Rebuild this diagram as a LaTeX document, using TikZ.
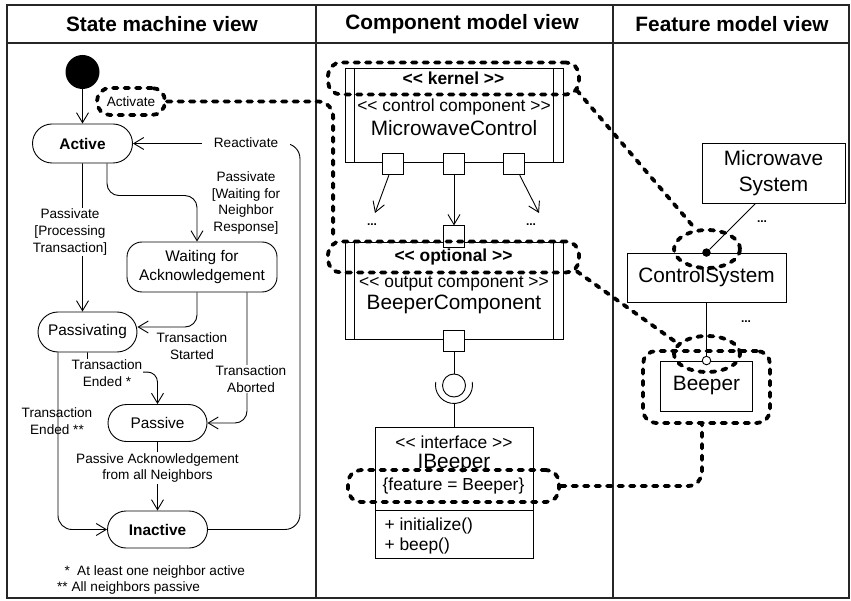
\documentclass[tikz,border=0pt]{standalone}
\usepackage{fontspec}
\setmainfont{Liberation Sans}[Ligatures=TeXOff]
\usetikzlibrary{positioning,arrows.meta,shapes.geometric,shapes.misc}

% font sizes (picture unit = 1pt)
\newcommand\fHead{\fontsize{20.8}{24}\selectfont\bfseries}
\newcommand\fState{\fontsize{15.4}{19}\selectfont}
\newcommand\fLabel{\fontsize{13.6}{16.6}\selectfont}
\newcommand\fStereo{\fontsize{17.4}{20}\selectfont}
\newcommand\fName{\fontsize{20.8}{25.5}\selectfont}

\tikzset{
  frame/.style={line width=1.2pt, draw=black!85},
  state/.style={draw, rounded rectangle, line width=0.9pt, inner sep=0pt, font=\fState},
  trans/.style={->, line width=0.9pt},
  lbl/.style={font=\fLabel, align=center, inner sep=1pt},
  lblw/.style={lbl, fill=white},
  comp/.style={draw, line width=0.9pt, inner sep=0pt},
  port/.style={draw, fill=white, line width=0.9pt, minimum size=21.5pt, inner sep=0pt},
  dotsmark/.style={font=\fontsize{12}{14}\selectfont\bfseries, inner sep=0pt},
  feat/.style={draw, line width=0.9pt, inner sep=0pt, font=\fName, align=center},
  trace/.style={line width=3.8pt, dash pattern=on 4.5pt off 7pt, line cap=round},
  tracebox/.style={trace, draw, rounded corners=13pt, inner sep=0pt},
  traceoval/.style={trace, draw, ellipse, inner sep=0pt}
}

\begin{document}
\begin{tikzpicture}[x=1pt, y=-1pt, >={Straight Barb[length=10pt,width=12pt]}]
  \fill[white] (0,0) rectangle (851,601);
  \useasboundingbox (0,0) rectangle (851,601);

  % --- FRAME ---
  \draw[frame] (7,5) rectangle (849,598);
  \draw[frame] (7,43) -- (849,43);
  \draw[frame] (316,5) -- (316,598);
  \draw[frame] (613,5) -- (613,598);
  \node[font=\fHead] (hstate) at (162,24) {State machine view};
  \node[font=\fHead] (hcomp)  at (462,24) {Component model view};
  \node[font=\fHead] (hfeat)  at (732,24) {Feature model view};

  % --- STATE MACHINE VIEW ---
  \node[circle, fill=black, minimum size=34pt, inner sep=0pt] (init) at (82.5,72) {};
  \node[tracebox, minimum width=68pt, minimum height=27pt, font=\fLabel] (actmark) at (131,101.5) {Activate};
  \node[state, minimum width=100pt, minimum height=39pt, font=\fState\bfseries] (active) at (82.5,143.5) {Active};
  \node[draw, rounded corners=15pt, line width=0.9pt, minimum width=150pt, minimum height=50pt,
        align=center, font=\fState, inner sep=0pt] (waiting) at (202,267) {Waiting for\\Acknowledgement};
  \node[state, minimum width=99pt, minimum height=40pt] (passivating) at (87.5,332) {Passivating};
  \node[state, minimum width=99pt, minimum height=37pt] (passive) at (157.5,423) {Passive};
  \node[state, minimum width=100pt, minimum height=37pt, font=\fState\bfseries] (inactive) at (157.5,529.5) {Inactive};

  % transitions
  \draw[trans] (init) -- (init |- active.north);
  \draw[trans] (active) -- (active |- passivating.north);
  \draw[trans, rounded corners=12pt] ([xshift=24.5pt]active.south) |- ([xshift=-5pt,yshift=46pt]waiting.north)
        -- ([xshift=-5pt]waiting.north);
  \draw[trans, rounded corners=12pt] ([xshift=-5pt]waiting.south) |- ([yshift=5pt]passivating.east);
  \draw[trans, rounded corners=12pt] ([xshift=45pt]waiting.south) |- (passive.east);
  \draw[trans, rounded corners=10pt] (passivating.south) |- ([yshift=32pt]passive.north) -- (passive.north);
  \draw[trans, rounded corners=14pt] ([xshift=-29.5pt]passivating.south) |- (inactive.west);
  \draw[trans] (passive) -- (inactive);
  \draw[trans, rounded corners=15pt] (inactive.east) -| ([xshift=167pt]active.east) -- (active.east);

  % transition labels
  \node[lblw] (lproc)    at (70,232)  {Passivate\\{[}Processing\\Transaction{]}};
  \node[lbl]  (lwait)    at (246,203) {Passivate\\{[}Waiting for\\Neighbor\\Response{]}};
  \node[lblw] (lstart)   at (192,346) {Transaction\\Started};
  \node[lblw] (labort)   at (251,379) {Transaction\\Aborted};
  \node[lblw] (lended)   at (107,373) {Transaction\\Ended *};
  \node[lbl]  (lendedtw) at (57,421)  {Transaction\\Ended **};
  \node[lblw] (lack)     at (157.5,468) {Passive Acknowledgement\\from all Neighbors};
  \node[lblw, inner xsep=12pt] (lreact) at (246,143) {Reactivate};

  % footnotes
  \node[lbl, anchor=west] (fnone) at (56,572) {\makebox[20pt][c]{*}At least one neighbor active};
  \node[lbl, anchor=west] (fntwo) at (56,588) {** All neighbors passive};

  % --- COMPONENT MODEL VIEW ---
  \node[comp, minimum width=218pt, minimum height=94pt] (kernel) at (454,115) {};
  \draw[line width=0.9pt] ([xshift=10pt]kernel.north west) -- ([xshift=10pt]kernel.south west);
  \draw[line width=0.9pt] ([xshift=-10pt]kernel.north east) -- ([xshift=-10pt]kernel.south east);
  \node[font=\fStereo] (kstereo) at (454,107) {<< control component >>};
  \node[font=\fName]   (kname)   at (454,128) {MicrowaveControl};
  \node[port] (kpl) at ([xshift=-61pt,yshift=-1.5pt]kernel.south) {};
  \node[port] (kpm) at ([yshift=-1.5pt]kernel.south) {};
  \node[port] (kpr) at ([xshift=60pt,yshift=-1.5pt]kernel.south) {};

  \node[comp, minimum width=218pt, minimum height=97pt] (optional) at (454,290.5) {};
  \draw[line width=0.9pt] ([xshift=10pt]optional.north west) -- ([xshift=10pt]optional.south west);
  \draw[line width=0.9pt] ([xshift=-10pt]optional.north east) -- ([xshift=-10pt]optional.south east);
  \node[font=\fStereo] (ostereo) at (454,284) {<< output component >>};
  \node[font=\fName]   (oname)   at (454,304) {BeeperComponent};
  \node[port] (opt) at ([yshift=5pt]optional.north) {};
  \node[port] (opb) at ([yshift=-1.5pt]optional.south) {};

  \node[dotsmark] (dotsl) at (372,225) {...};
  \node[dotsmark] (dotsr) at (531,225) {...};
  \coordinate (morel) at (375,213);
  \coordinate (morer) at (539,213);
  \draw[trans] (kpl) -- (morel);
  \draw[trans] (kpr) -- (morer);
  \draw[trans] (kpm) -- (opt);

  % provided / required interface
  \node[draw, circle, line width=0.9pt, minimum size=23pt, inner sep=0pt] (ball) at (454,385.5) {};
  \draw[line width=0.9pt] (opb) -- (ball);
  \draw[line width=0.9pt] (454,385) ++(190:18.5) arc[start angle=190, end angle=-10, radius=18.5];
  \coordinate (socket) at (454,403.5);

  \node[comp, minimum width=158pt, minimum height=131pt] (iface) at (454,492.5) {};
  \draw[line width=0.9pt] (socket) -- (iface);
  \draw[line width=0.9pt] ([yshift=-84pt]iface.north west) -- ([yshift=-84pt]iface.north east);
  \node[font=\fStereo] (istereo) at (454,442) {<< interface >>};
  \node[font=\fName]   (iname)   at (454,464) {IBeeper};
  \node[font=\fStereo, anchor=west] (iop1) at (381,526) {+ initialize()};
  \node[font=\fStereo, anchor=west] (iop2) at (381,546) {+ beep()};

  % --- FEATURE MODEL VIEW ---
  \node[feat, minimum width=143pt, minimum height=60pt] (msys) at (773.5,173) {Microwave\\System};
  \node[feat, minimum width=159pt, minimum height=49pt] (ctrl) at (706.5,277.5) {ControlSystem};
  \node[feat, minimum width=92pt, minimum height=50pt] (beeper) at (706.5,386) {Beeper};
  \node[circle, fill=black, minimum size=8.5pt, inner sep=0pt] (mand) at (ctrl.north) {};
  \node[circle, draw, fill=white, line width=0.9pt, minimum size=8.5pt, inner sep=0pt] (opti) at (beeper.north) {};
  \draw[line width=0.9pt] (mand) -- ([xshift=-18pt]msys.south);
  \draw[line width=0.9pt] (ctrl) -- (opti);
  \node[dotsmark] (dotsm) at (762,222) {...};
  \node[dotsmark] (dotsc) at (746,322) {...};

  % --- TRACE LINKS ---
  \node[tracebox, minimum width=251pt, minimum height=32pt, font=\fStereo\bfseries] (kernmark) at (453.5,78.5) {<< kernel >>};
  \node[tracebox, minimum width=251pt, minimum height=31pt, font=\fStereo\bfseries] (optmark) at (453.5,257) {<< optional >>};
  \node[tracebox, minimum width=211pt, minimum height=32pt, font=\fStereo] (featmark) at (453.5,486) {\{feature = Beeper\}};
  \node[traceoval, minimum width=66pt, minimum height=38pt] (ctrlmark) at (707,249) {};
  \node[traceoval, minimum width=66pt, minimum height=36pt] (optimark) at (707,354) {};
  \node[tracebox, minimum width=127pt, minimum height=72pt] (beepmark) at (706.5,387) {};

  \draw[trace, rounded corners=15pt] (actmark.east) -| ([xshift=7pt]optmark.north west);
  \draw[trace] ([xshift=-4pt,yshift=6pt]kernmark.south east) -- (ctrlmark.120);
  \draw[trace] ([xshift=-4pt,yshift=3pt]optmark.south east) -- (optimark.160);
  \draw[trace, rounded corners=14pt] (featmark.east) -| ([xshift=-4.5pt]beepmark.south);
\end{tikzpicture}
\end{document}
